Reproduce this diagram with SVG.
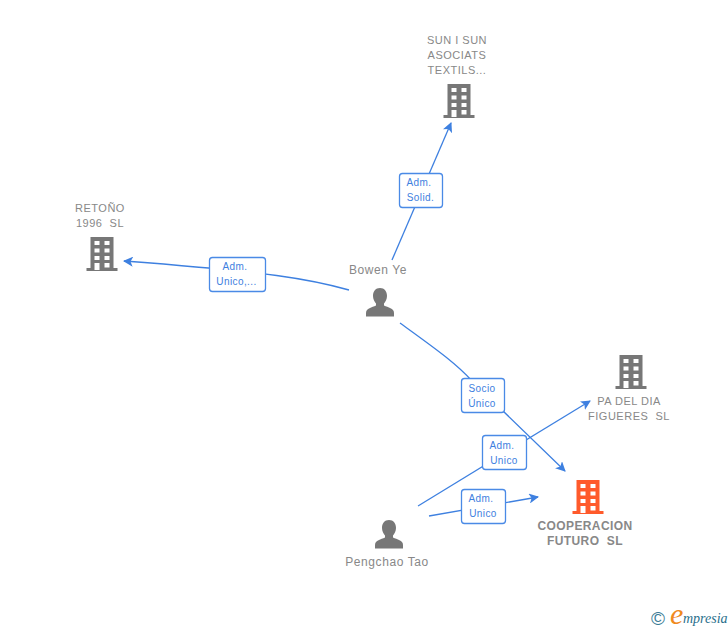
<svg xmlns="http://www.w3.org/2000/svg" width="728" height="630" viewBox="0 0 728 630">
<style>
text{font-family:"Liberation Sans",Arial,sans-serif;white-space:pre}
.n{font-size:11px;fill:#888;text-anchor:middle;letter-spacing:.5px}
.o{font-size:12px;font-weight:bold;letter-spacing:.4px}
.p{font-size:12px;letter-spacing:.6px}
.l{font-size:10px;fill:#3e80e0;text-anchor:middle;letter-spacing:.4px}
.b{fill:#fff;stroke:#4a8ae6;stroke-width:1.3}
.c{fill:none;stroke:#3e80e0;stroke-width:1.3}
</style>
<defs>
<marker id="a" markerWidth="11" markerHeight="10" refX="9" refY="5" orient="auto" markerUnits="userSpaceOnUse"><path d="M0 0L10 5L0 10L2.500 5Z" fill="#3e80e0"/></marker>
<g id="bd"><path d="M-11.500 0H11.500V31H15.500V34H-15.500V31H-11.500Z"/><path fill="#fff" d="M-7.500 4H-2.500V8H-7.500ZM2.500 4H7.500V8H2.500ZM-7.500 11.500H-2.500V15.500H-7.500ZM2.500 11.500H7.500V15.500H2.500ZM-7.500 19H-2.500V23H-7.500ZM2.500 19H7.500V23H2.500ZM-7.500 26H-2.500V33H-7.500ZM2.500 26H7.500V30.500H2.500Z"/></g>
<path id="pr" d="M0 0C4.500 0 7 3.500 7 8C7 11 5.500 14 4 15.500V17.500C8 19.500 14 20 14 25V28.500H-14V25C-14 20-8 19.500-4 17.500V15.500C-5.500 14-7 11-7 8C-7 3.500-4.500 0 0 0Z"/>
</defs>
<rect width="728" height="630" fill="#fff"/>
<g id="connectors">
<path class="c" d="M392 260L451 123" marker-end="url(#a)"/>
<path class="c" d="M349 290C310 279 270 272 124 261" marker-end="url(#a)"/>
<path class="c" d="M400 323C430 345 455 362 472 381L565 471" marker-end="url(#a)"/>
<path class="c" d="M418 506L590 401" marker-end="url(#a)"/>
<path class="c" d="M429 516L538 497" marker-end="url(#a)"/>
</g>
<g id="edge-solid"><rect class="b" x="399.500" y="173.500" width="43" height="34" rx="3"/><text class="l" x="419" y="186">Adm.</text><text class="l" x="420.500" y="201">Solid.</text></g>
<g id="edge-unico-retono"><rect class="b" x="209.500" y="257.500" width="56" height="34" rx="3"/><text class="l" x="235" y="270">Adm.</text><text class="l" x="236.500" y="285">Unico,...</text></g>
<g id="edge-socio"><rect class="b" x="461.500" y="378.500" width="43" height="34" rx="3"/><text class="l" x="482" y="392">Socio</text><text class="l" x="482" y="407">Único</text></g>
<g id="edge-unico-pa"><rect class="b" x="482.500" y="435.500" width="44" height="34" rx="3"/><text class="l" x="502" y="449">Adm.</text><text class="l" x="504" y="464">Unico</text></g>
<g id="edge-unico-coop"><rect class="b" x="461.500" y="489.500" width="44" height="34" rx="3"/><text class="l" x="481" y="502">Adm.</text><text class="l" x="483" y="517">Unico</text></g>
<g id="node-sun"><text class="n" x="457" y="44">SUN I SUN</text><text class="n" x="457" y="59">ASOCIATS</text><text class="n" x="457" y="74">TEXTILS...</text><use href="#bd" x="459" y="84" fill="#777"/></g>
<g id="node-retono"><text class="n" x="100" y="212">RETOÑO</text><text class="n" x="100" y="227">1996  SL</text><use href="#bd" x="102" y="237" fill="#777"/></g>
<g id="node-bowen"><text class="p" x="378" y="274" text-anchor="middle" fill="#888">Bowen Ye</text><use href="#pr" x="380" y="288" fill="#777"/></g>
<g id="node-pa"><use href="#bd" x="631" y="355" fill="#777"/><text class="n" x="629" y="405">PA DEL DIA</text><text class="n" x="629" y="420">FIGUERES  SL</text></g>
<g id="node-coop"><use href="#bd" x="588" y="480" fill="#ff5a2b"/><text class="o" x="585" y="530" text-anchor="middle" fill="#888">COOPERACION</text><text class="o" x="585" y="545" text-anchor="middle" fill="#888">FUTURO  SL</text></g>
<g id="node-pengchao"><use href="#pr" x="389" y="520" fill="#777"/><text class="p" x="387" y="566" text-anchor="middle" fill="#888">Pengchao Tao</text></g>
<g id="logo"><text x="658" y="625" text-anchor="middle" font-size="19" fill="#3a7c96">©</text><text x="670" y="624" font-size="30" font-style="italic" fill="#f08a1d" style="font-family:'Liberation Serif',serif">e</text><text x="683" y="623" font-size="14" font-style="italic" fill="#2a6f8c" style="font-family:'Liberation Serif',serif">mpresia</text></g>
</svg>
